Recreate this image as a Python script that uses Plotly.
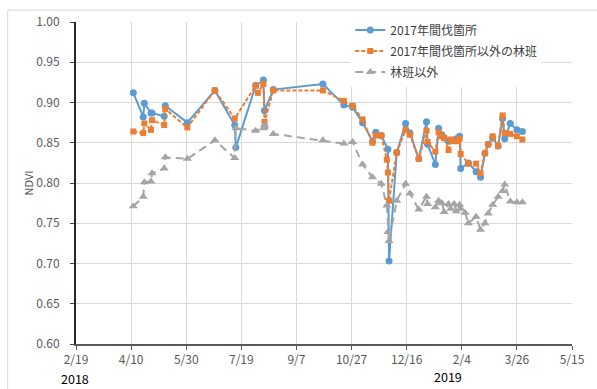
import plotly.graph_objects as go

# Observation dates (shared by all three series)
dates = [
    "2018-04-12", "2018-04-21", "2018-04-22", "2018-04-28", "2018-04-29",
    "2018-05-10", "2018-05-11", "2018-05-31", "2018-06-25", "2018-07-13",
    "2018-07-14", "2018-08-01", "2018-08-03", "2018-08-08", "2018-08-09",
    "2018-08-17", "2018-10-01", "2018-10-20", "2018-10-28", "2018-11-06",
    "2018-11-15", "2018-11-18", "2018-11-23", "2018-11-28", "2018-11-29",
    "2018-11-30", "2018-12-07", "2018-12-15", "2018-12-19", "2018-12-27",
    "2019-01-03", "2019-01-04", "2019-01-11", "2019-01-14", "2019-01-17",
    "2019-01-19", "2019-01-23", "2019-01-25", "2019-01-28", "2019-01-30",
    "2019-02-02", "2019-02-03", "2019-02-07", "2019-02-10", "2019-02-17",
    "2019-02-21", "2019-02-25", "2019-02-28", "2019-03-04", "2019-03-09",
    "2019-03-13", "2019-03-15", "2019-03-20", "2019-03-26", "2019-03-31",
]

# NDVI: 2017 thinning sites
ndvi_thinned = [
    0.912, 0.882, 0.899, 0.887, 0.887, 0.883, 0.896, 0.875, 0.915, 0.872,
    0.844, 0.921, None, 0.928, 0.890, 0.916, 0.923, 0.897, 0.894, 0.875,
    0.852, 0.863, 0.859, None, 0.842, 0.703, 0.838, 0.874, 0.862, 0.830,
    0.876, 0.848, 0.823, 0.868, 0.860, 0.856, 0.852, 0.853, 0.853, 0.855,
    0.858, 0.818, None, 0.825, 0.814, 0.807, 0.837, 0.848, 0.856, 0.846,
    0.880, 0.855, 0.874, 0.866, 0.864,
]

# NDVI: forest compartments other than the 2017 thinning sites
ndvi_other_stands = [
    0.864, 0.862, 0.874, 0.866, 0.878, 0.872, 0.892, 0.869, 0.915, 0.880,
    None, 0.921, 0.912, 0.923, 0.876, 0.915, 0.915, 0.902, 0.896, 0.879,
    0.850, 0.859, 0.859, 0.829, 0.813, 0.778, 0.838, 0.866, 0.860, 0.830,
    0.865, 0.851, 0.839, 0.863, 0.858, 0.856, 0.841, 0.854, 0.852, 0.852,
    0.855, 0.836, None, 0.824, 0.824, 0.812, 0.837, 0.848, 0.858, 0.846,
    0.884, 0.862, 0.861, 0.858, 0.854,
]

# NDVI: outside forest compartments
ndvi_non_forest = [
    0.771, 0.783, 0.801, 0.802, 0.812, 0.818, 0.832, 0.830, 0.853, 0.831,
    0.868, 0.865, None, 0.868, 0.872, 0.861, 0.853, 0.849, 0.851, 0.823,
    0.807, None, 0.799, 0.772, 0.739, 0.728, 0.778, 0.799, 0.787, 0.767,
    0.783, 0.774, 0.770, 0.778, 0.775, 0.764, 0.774, 0.768, 0.774, 0.765,
    0.773, 0.768, 0.763, 0.750, 0.758, 0.742, 0.750, 0.762, 0.773, 0.783,
    0.790, 0.798, 0.777, 0.776, 0.776,
]

series_names = ["2017年間伐箇所", "2017年間伐箇所以外の林班", "林班以外"]

tick_dates = [
    "2018-02-19", "2018-04-10", "2018-05-30", "2018-07-19", "2018-09-07",
    "2018-10-27", "2018-12-16", "2019-02-04", "2019-03-26", "2019-05-15",
]
tick_labels = ["2/19", "4/10", "5/30", "7/19", "9/7", "10/27", "12/16", "2/4", "3/26", "5/15"]
year_labels = ["2018", "2019"]

FONT = "Noto Sans CJK JP"

fig = go.Figure()
fig.add_trace(go.Scatter(
    x=dates, y=ndvi_thinned, name=series_names[0], mode="lines+markers",
    connectgaps=True, legendgroup="g0",
    line=dict(color="#5B9BD5", width=2),
    marker=dict(symbol="circle", size=7, color="#5B9BD5"),
))
fig.add_trace(go.Scatter(
    x=dates, y=ndvi_other_stands, name=series_names[1], mode="lines+markers",
    connectgaps=True, legendgroup="g1",
    line=dict(color="#ED7D31", width=2, dash="4px,2px"),
    marker=dict(symbol="square", size=6, color="#ED7D31"),
))
fig.add_trace(go.Scatter(
    x=dates, y=ndvi_non_forest, name=series_names[2], mode="lines+markers",
    connectgaps=True, legendgroup="g2",
    line=dict(color="#A5A5A5", width=2, dash="8px,5px"),
    marker=dict(symbol="triangle-up", size=8, color="#A5A5A5"),
))

fig.update_layout(
    width=597, height=389,
    margin=dict(l=76, r=20, t=18, b=45),
    paper_bgcolor="white", plot_bgcolor="white",
    font=dict(family=FONT, size=12, color="#595959"),
    showlegend=True,
    legend=dict(
        x=0.553, y=1.02, xanchor="left", yanchor="top",
        bgcolor="white", borderwidth=0,
        font=dict(family=FONT, size=12, color="#404040"),
        tracegroupgap=2,
    ),
    xaxis=dict(
        type="date",
        range=[tick_dates[0], tick_dates[-1]],
        tickvals=tick_dates, ticktext=tick_labels,
        showgrid=True, gridcolor="#d9d9d9", gridwidth=1,
        showline=True, linecolor="#595959", linewidth=2,
        ticks="outside", ticklen=4, tickcolor="#595959",
        tickfont=dict(family=FONT, size=12, color="#595959"),
        zeroline=False,
    ),
    yaxis=dict(
        range=[0.60, 1.00],
        tickvals=[0.60, 0.65, 0.70, 0.75, 0.80, 0.85, 0.90, 0.95, 1.00],
        tickformat=".2f",
        showgrid=True, gridcolor="#d9d9d9", gridwidth=1,
        showline=True, linecolor="#262626", linewidth=2,
        ticks="outside", ticklen=4, tickcolor="#404040",
        ticklabelstandoff=8,
        tickfont=dict(family=FONT, size=12, color="#595959"),
        zeroline=False,
    ),
)

# Axis title
fig.add_annotation(
    text="NDVI", xref="paper", yref="paper", x=-0.096, y=0.5,
    xanchor="center", yanchor="middle",
    textangle=-90, showarrow=False,
    font=dict(family=FONT, size=11, color="#595959"),
)

# Year labels under the date axis
fig.add_annotation(text=year_labels[0], xref="paper", yref="paper",
                   x=-0.002, y=-0.106, xanchor="center", yanchor="middle",
                   showarrow=False,
                   font=dict(family=FONT, size=12.5, color="#000000"))
fig.add_annotation(text=year_labels[1], xref="paper", yref="paper",
                   x=0.7505, y=-0.102, xanchor="center", yanchor="middle",
                   showarrow=False,
                   font=dict(family=FONT, size=12.5, color="#000000"))

# Light frame around the chart area
fig.add_shape(type="rect", xref="paper", yref="paper",
              x0=-0.1377, y0=-0.2, x1=1.1, y1=1.0368,
              line=dict(color="#d9d9d9", width=1), fillcolor="rgba(0,0,0,0)",
              layer="below")

fig.write_html("out.html")
